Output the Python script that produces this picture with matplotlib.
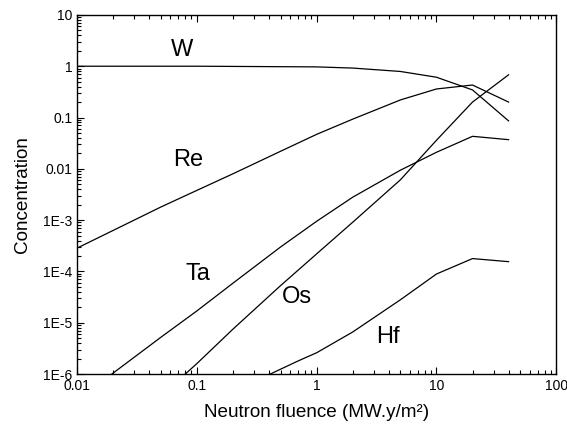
import numpy as np
import matplotlib
matplotlib.use("Agg")
import matplotlib.pyplot as plt
from matplotlib.ticker import FixedLocator, LogLocator, NullFormatter

plt.rcParams['font.family'] = ['Liberation Sans', 'DejaVu Sans']

# fluence (MW.y/m2) and concentration
w_x = [0.01, 0.1, 1, 2, 5, 10, 20, 40]
w_y = [1.0, 1.0, 0.97, 0.92, 0.79, 0.61, 0.345, 0.086]

re_x = [0.01, 0.02, 0.05, 0.1, 0.2, 0.5, 1, 2, 5, 10, 20, 40]
re_y = [2.85e-4, 6.3e-4, 1.8e-3, 3.8e-3, 8.0e-3, 0.022, 0.047, 0.093, 0.22, 0.36, 0.43, 0.2]

ta_x = [0.0195, 0.05, 0.1, 0.2, 0.5, 1, 2, 5, 10, 20, 40]
ta_y = [1e-6, 5.2e-6, 1.7e-5, 5.9e-5, 3.0e-4, 9.5e-4, 2.8e-3, 9.4e-3, 0.021, 0.043, 0.037]

os_x = [0.08, 0.1, 0.2, 0.5, 1, 2, 5, 10, 20, 40]
os_y = [1e-6, 1.6e-6, 7.5e-6, 5.3e-5, 2.2e-4, 9.1e-4, 6.1e-3, 0.036, 0.2, 0.68]

hf_x = [0.41, 0.7, 1, 2, 5, 10, 20, 40]
hf_y = [1e-6, 1.8e-6, 2.6e-6, 6.6e-6, 2.8e-5, 8.9e-5, 1.78e-4, 1.55e-4]

labels = ['W', 'Re', 'Ta', 'Os', 'Hf']
label_x = [0.075, 0.085, 0.102, 0.69, 3.9]
label_y = [2.08, 0.0149, 8.9e-5, 3.2e-5, 5.3e-6]

xticks = [0.01, 0.1, 1, 10, 100]
xtick_labels = ['0.01', '0.1', '1', '10', '100']
yticks = [1e-6, 1e-5, 1e-4, 1e-3, 0.01, 0.1, 1, 10]
ytick_labels = ['1E-6', '1E-5', '1E-4', '1E-3', '0.01', '0.1', '1', '10']

fig = plt.figure(figsize=(5.67, 4.26), dpi=100)
ax = fig.add_axes([0.136, 0.122, 0.845, 0.843])

for xs, ys in [(w_x, w_y), (re_x, re_y), (ta_x, ta_y), (os_x, os_y), (hf_x, hf_y)]:
    ax.plot(xs, ys, color='black', lw=0.9)

for name, lx, ly in zip(labels, label_x, label_y):
    ax.text(lx, ly, name, fontsize=17, ha='center', va='center')

ax.set_xscale('log')
ax.set_yscale('log')
ax.set_xlim(0.01, 100)
ax.set_ylim(1e-6, 10)

ax.xaxis.set_major_locator(FixedLocator(xticks))
ax.set_xticklabels(xtick_labels)
ax.yaxis.set_major_locator(FixedLocator(yticks))
ax.set_yticklabels(ytick_labels)
ax.xaxis.set_minor_locator(LogLocator(base=10, subs=np.arange(2, 10)))
ax.yaxis.set_minor_locator(LogLocator(base=10, subs=np.arange(2, 10)))
ax.xaxis.set_minor_formatter(NullFormatter())
ax.yaxis.set_minor_formatter(NullFormatter())

ax.tick_params(which='both', direction='in', top=True, right=False, labelsize=10, width=0.8)
ax.tick_params(which='major', length=5)
ax.tick_params(which='minor', length=3)
for s in ax.spines.values():
    s.set_linewidth(1.0)

ax.set_xlabel('Neutron fluence (MW.y/m²)', fontsize=13.6, labelpad=8)
ax.set_ylabel('Concentration', fontsize=13.6, labelpad=9)

fig.savefig('out.png', dpi=100)
